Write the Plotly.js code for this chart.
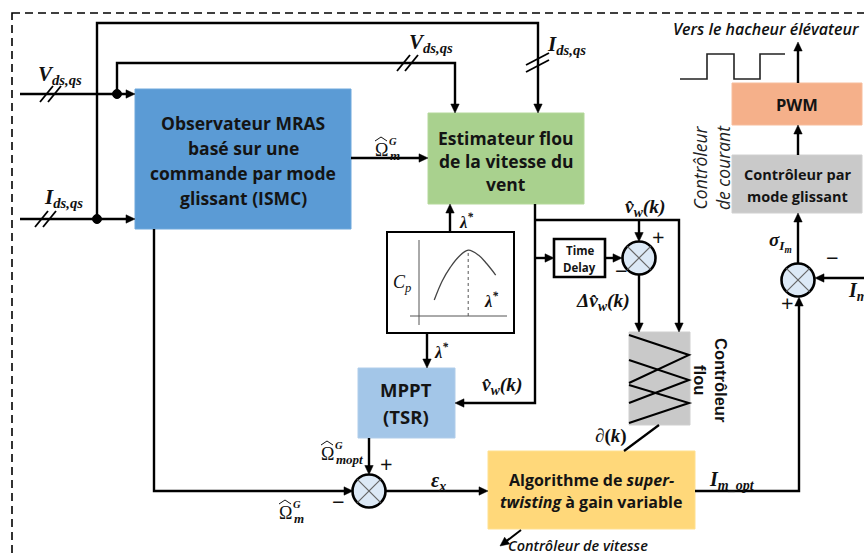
<!DOCTYPE html>
<html><head><meta charset="utf-8">
<script src="https://cdn.plot.ly/plotly-3.0.1.min.js"></script>
<style>html,body{margin:0;padding:0;background:#fff}#g{width:864px;height:554px}</style>
</head><body><div id="g"></div>
<script>
// ---- content (texts and curve values) ----
const blockTexts = [
  'Observateur MRAS<br>basé sur une<br>commande par mode<br>glissant (ISMC)',
  'Estimateur flou<br>de la vitesse du<br>vent',
  'MPPT<br>(TSR)',
  'Algorithme de <i>super-</i><br><i>twisting</i> à gain variable',
  'Contrôleur par<br>mode glissant',
  'PWM',
  'Time<br>Delay'
];
const sideLabels = ['Contrôleur<br>flou', 'Contrôleur<br>de courant', 'Contrôleur de vitesse', 'Vers le hacheur élévateur'];
const signalLabels = ['V', 'I', 'ds,qs', 'm', 'mopt', 'G', 'ε', 'x', 'm_opt', 'σ', 'I', 'm', '∂(<i>k</i>)', 'λ', '*', 'C', 'p'];
const cpLambda = [3.0, 4.0, 5.0, 6.0, 7.2, 8.5, 9.5, 10.6];
const cpValue  = [0.147, 0.26, 0.34, 0.40, 0.44, 0.41, 0.36, 0.294];
const lambdaStar = [7.2, 7.2];
const lambdaStarCp = [0.053, 0.44];

// ---- drawing helpers ----
const shapes = [], ann = [];
const SANS = 'Open Sans', SERIF = 'Liberation Serif';
function poly(pts, w, color, dash){
  shapes.push({type:'path', xref:'x', yref:'y', path:'M' + pts.map(p => p[0] + ' ' + p[1]).join(' L'),
    line:{color: color || '#000', width: w === undefined ? 2.4 : w, dash: dash || 'solid'}});
}
function head(x1, y1, x2, y2){
  const dx = x2 - x1, dy = y2 - y1, L = Math.hypot(dx, dy), ux = dx / L, uy = dy / L;
  const len = 9, hw = 4.2, bx = x2 - ux * len, by = y2 - uy * len;
  shapes.push({type:'path', xref:'x', yref:'y',
    path:`M${x2} ${y2} L${bx - uy * hw} ${by + ux * hw} L${bx + uy * hw} ${by - ux * hw} Z`,
    fillcolor:'#000', line:{color:'#000', width:0.5}});
  return [bx + ux * 1, by + uy * 1];
}
function arrow(pts, w){
  const n = pts.length, a = pts[n - 2], b = pts[n - 1];
  const base = head(a[0], a[1], b[0], b[1]);
  poly(pts.slice(0, n - 1).concat([base]), w);
}
function rect(x0, y0, x1, y1, fill, lc, lw, layer){
  shapes.push({type:'rect', xref:'x', yref:'y', x0, y0, x1, y1, fillcolor: fill || 'rgba(0,0,0,0)',
    line:{color: lc || 'rgba(0,0,0,0)', width: lw || 0}, layer: layer || 'above'});
}
function dot(x, y){ shapes.push({type:'circle', xref:'x', yref:'y', x0:x-4.5, x1:x+4.5, y0:y-4.5, y1:y+4.5, fillcolor:'#000', line:{color:'#000', width:1}}); }
function sum(cx, cy){
  const r = 16.5, d = r * 0.707;
  shapes.push({type:'circle', xref:'x', yref:'y', x0:cx-r, x1:cx+r, y0:cy-r, y1:cy+r, fillcolor:'#DCE9F6', line:{color:'#000', width:2.6}});
  poly([[cx-d, cy-d], [cx+d, cy+d]], 1.2, '#666');
  poly([[cx-d, cy+d], [cx+d, cy-d]], 1.2, '#666');
}
function slashH(x, y){ for (const o of [0, 8]) poly([[x + o - 7, y + 8], [x + o + 6, y - 8]], 1.8); }
function slashV(x, y){ for (const o of [0, 7]) poly([[x - 12, y + o + 3], [x + 11, y + o - 9]], 1.8); }
function txt(x, y, t, size, opt){
  opt = opt || {};
  ann.push(Object.assign({x, y, xref:'x', yref:'y', text:t, showarrow:false, xanchor: opt.xanchor || 'center', yanchor:'middle',
    font:{family: opt.family || SANS, size, color: opt.color || '#111', weight: opt.weight || 'normal', style: opt.style || 'normal'}}, opt.extra || {}));
}
// block text: one annotation per line, with the reference's line pitch
function btxt(x, y0, t, size, pitch){
  t.split('<br>').forEach((ln, i) => txt(x, y0 + i * (pitch || 0), ln, size, {weight:'bold', color:'#141414'}));
}
function math(x, y, t, size){ txt(x, y, t, size, {family: SERIF, weight:'bold', style:'italic'}); }
function omega(x, y, sub){
  txt(x, y, 'Ω', 18, {family: SERIF});
  poly([[x - 6, y - 9], [x, y - 13], [x + 6, y - 9]], 1, '#111');
  math(x + 12, y - 9, signalLabels[5], 10.5);
  ann.push({x: x + 7, y: y + 5, xref:'x', yref:'y', xanchor:'left', yanchor:'middle', text:'<b><i>' + sub + '</i></b>', showarrow:false,
    font:{family: SERIF, size: 13, color:'#111'}});
}

// ---- frame ----
rect(12, 13, 890, 575, null, '#000', 1.6);
shapes[shapes.length - 1].line.dash = '8px,5px';

// ---- blocks ----
rect(135, 89, 351, 229, '#5B9BD5', '#6fa8dc', 1);
btxt(243, 123, blockTexts[0], 17.5, 25);
rect(428, 113, 584, 204, '#A9D18E', '#b4d89a', 1);
btxt(506, 138, blockTexts[1], 17.5, 23);
rect(358, 368, 455, 438, '#A3C6E8', '#b0cdea', 1);
btxt(406, 389, blockTexts[2], 18.5, 27);
rect(488, 451, 695, 529, '#FFD87A', '#ffe08f', 1);
btxt(591, 480, blockTexts[3], 16, 22);
rect(732, 155, 862, 213, '#C9C9C9', '#d0d0d0', 1);
btxt(797, 174, blockTexts[4], 14.5, 22);
rect(732, 83, 862, 125, '#F5B08A', '#f7bd9c', 1);
btxt(797, 104, blockTexts[5], 16.5, 0);
rect(554, 239, 605, 277, '#fff', '#000', 2.6);
btxt(579.5, 250, blockTexts[6], 11.5, 17);
rect(629, 332, 690, 425, '#C9C9C9', '#cfcfcf', 1);
rect(387, 232, 514, 333, '#fff', '#000', 2, 'below');

// fuzzy membership lines
poly([[629, 335], [689, 355], [629, 383]], 2);
poly([[629, 360], [689, 380], [629, 403]], 2);
poly([[629, 385], [689, 403], [629, 423]], 2);

// Cp plot axes
poly([[419, 240], [419, 325]], 1, '#555');
poly([[410, 316], [507, 316]], 1, '#555');

// ---- connectors ----
arrow([[20, 94], [135, 94]]);
dot(117, 94);
arrow([[117, 94], [117, 63], [455, 63], [455, 113]]);
arrow([[20, 219], [135, 219]]);
dot(97, 219);
arrow([[97, 219], [97, 23], [538, 23], [538, 113]]);
slashH(47, 94); slashH(42, 219); slashH(404, 63); slashV(538, 62);
arrow([[351, 158], [428, 158]]);
arrow([[154, 229], [154, 491], [353, 491]]);
arrow([[369, 438], [369, 474.5]]);
arrow([[386, 491], [488, 491]]);
arrow([[695, 491], [799, 491], [799, 297]]);
arrow([[798, 263], [798, 213]]);
arrow([[798, 155], [798, 125]]);
arrow([[798, 83], [798, 42]]);
arrow([[870, 278], [815, 278]]);
arrow([[450, 232], [450, 204]]);
arrow([[427, 333], [427, 368]]);
arrow([[535, 204], [535, 403], [455, 403]]);
arrow([[535, 220], [679, 220], [679, 332]]);
arrow([[535, 258], [554, 258]]);
arrow([[605, 258], [622, 258]]);
arrow([[639, 220], [639, 241.5]]);
arrow([[639, 275], [639, 332]]);
poly([[659, 425], [624, 451]], 2.2);
arrow([[521, 530], [500, 546]], 2);
sum(369, 491); sum(639, 258); sum(798, 280);
poly([[680, 79], [707, 79], [707, 54], [734, 54], [734, 79], [760, 79], [760, 54], [785, 54]], 1.6, '#222');

// ---- signal labels ----
const dsqs = '<sub>' + signalLabels[2] + '</sub>';
math(60, 75, signalLabels[0] + dsqs, 21);
math(63, 198, signalLabels[1] + dsqs, 21);
math(431, 43, signalLabels[0] + dsqs, 21);
math(566, 45, signalLabels[1] + dsqs, 21);
omega(381, 150, signalLabels[3]);
omega(285, 513, signalLabels[3]);
omega(327, 454, signalLabels[4]);
math(438, 481, signalLabels[6] + '<sub>' + signalLabels[7] + '</sub>', 20);
math(732, 480, signalLabels[10] + '<sub>' + signalLabels[8] + '</sub>', 20);
math(780, 242, signalLabels[9] + '<sub>' + signalLabels[10] + '<sub>' + signalLabels[11] + '</sub></sub>', 19);
math(858, 291, signalLabels[10] + '<sub>' + signalLabels[11] + '</sub>', 20);
txt(611, 436, '<b>' + signalLabels[12] + '</b>', 19, {family: SERIF});
const vw = 'v̂<sub>w</sub>(k)';
math(645, 208, vw, 19.5);
math(502, 386, vw, 19.5);
math(603, 302, 'Δ' + vw, 19.5);
math(466, 221, signalLabels[13] + '<sup>' + signalLabels[14] + '</sup>', 16.5);
math(441, 351, signalLabels[13] + '<sup>' + signalLabels[14] + '</sup>', 16.5);
math(491, 300, signalLabels[13] + '<sup>' + signalLabels[14] + '</sup>', 16.5);
txt(402, 283, '<i>' + signalLabels[15] + '<sub>' + signalLabels[16] + '</sub></i>', 18, {family: SERIF});
// signs
txt(658, 236, '+', 22); txt(621, 270, '−', 22);
txt(386, 463, '+', 22); txt(338, 501, '−', 22);
txt(832, 257, '−', 22); txt(787, 302, '+', 22);

// side labels
txt(711, 380, sideLabels[0], 16.5, {family:'Liberation Sans', weight:'bold', extra:{textangle: 90}});
txt(711, 168, sideLabels[1], 17.5, {style:'italic', color:'#222', extra:{textangle: -90}});
txt(578, 545, sideLabels[2], 14.5, {style:'italic', weight:600});
txt(766, 29, sideLabels[3], 16, {style:'italic', weight:600});

// ---- Cp curve drawn on its own small axes ----
const traces = [
  {x: cpLambda, y: cpValue, xaxis:'x2', yaxis:'y2', mode:'lines', line:{color:'#444', width:1.3, shape:'spline'}, hoverinfo:'skip'},
  {x: lambdaStar, y: lambdaStarCp, xaxis:'x2', yaxis:'y2', mode:'lines', line:{color:'#555', width:1, dash:'dot'}, hoverinfo:'skip'}
];
const layout = {
  width: 864, height: 554, margin:{l:0, r:0, t:0, b:0}, paper_bgcolor:'#fff', plot_bgcolor:'#fff', showlegend:false,
  xaxis:{range:[0, 864], visible:false, fixedrange:true, domain:[0, 1]},
  yaxis:{range:[554, 0], visible:false, fixedrange:true, domain:[0, 1]},
  xaxis2:{range:[0, 12], visible:false, domain:[410/864, 507/864], anchor:'y2'},
  yaxis2:{range:[0, 0.5], visible:false, domain:[1 - 325/554, 1 - 240/554], anchor:'x2'},
  shapes, annotations: ann
};
Plotly.newPlot('g', traces, layout, {staticPlot:true, displayModeBar:false});
</script></body></html>
